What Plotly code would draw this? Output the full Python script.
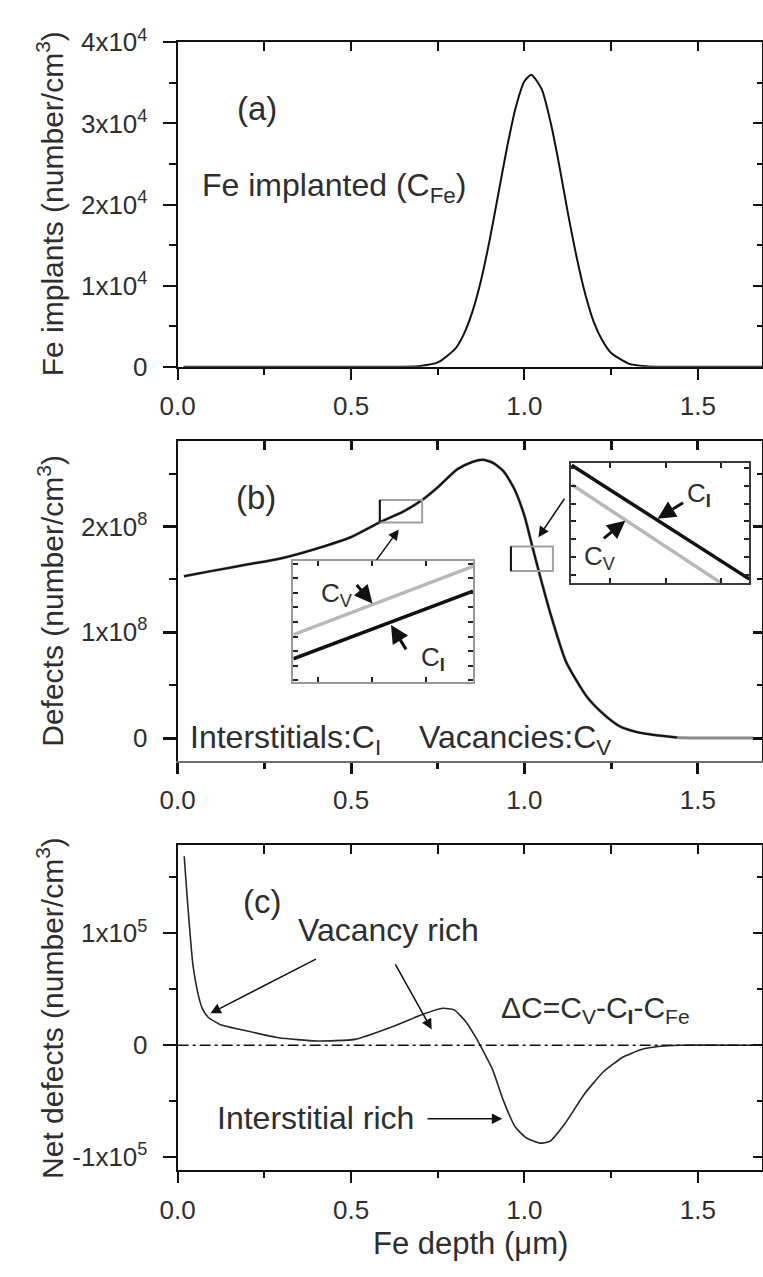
import plotly.graph_objects as go

W, H = 763, 1277
FONT = "Liberation Sans, Arial, Helvetica, sans-serif"
INK = "#111111"
TXT = "#2e2e2e"


def sx(p):
    return p / W


def sy(p):
    return 1 - p / H


# ---------------- data ----------------
# (a) implanted Fe profile, concentration in units of 1e4 /cm^3
depth_a = [0.017, 0.10, 0.20, 0.30, 0.40, 0.50, 0.60, 0.65, 0.70, 0.75, 0.80, 0.825,
           0.85, 0.875, 0.90, 0.925, 0.95, 0.975, 1.00, 1.02, 1.05, 1.075, 1.10, 1.125,
           1.15, 1.175, 1.20, 1.225, 1.25, 1.30, 1.35, 1.40, 1.50, 1.60, 1.685]
fe_1e4 = [0.0, 0.0, 0.0, 0.0, 0.0, 0.0, 0.0, 0.001, 0.01, 0.053, 0.22, 0.40,
          0.68, 1.07, 1.57, 2.14, 2.71, 3.20, 3.52, 3.60, 3.42, 3.02, 2.49, 1.90,
          1.36, 0.90, 0.55, 0.32, 0.17, 0.039, 0.007, 0.0, 0.0, 0.0, 0.0]

# (b) interstitials C_I and vacancies C_V, in units of 1e8 /cm^3
depth_ci = [0.018, 0.10, 0.20, 0.30, 0.40, 0.50, 0.583, 0.65, 0.705, 0.75, 0.806, 0.85,
            0.88, 0.91, 0.94, 0.97, 1.00, 1.022, 1.05, 1.08, 1.12, 1.18, 1.23, 1.275,
            1.32, 1.37, 1.44]
ci_1e8 = [1.53, 1.58, 1.64, 1.70, 1.79, 1.90, 2.04, 2.14, 2.25, 2.37, 2.54, 2.61,
          2.63, 2.60, 2.52, 2.36, 2.10, 1.82, 1.47, 1.12, 0.72, 0.39, 0.22, 0.11,
          0.06, 0.03, 0.005]
depth_cv = depth_ci + [1.50, 1.58, 1.66]
cv_1e8 = ci_1e8 + [0.0, 0.0, 0.0]

# zoom windows marked on (b) and shown magnified in the two insets
box1_x, box1_y = [0.583, 0.705], [2.037, 2.249]
box2_x, box2_y = [0.961, 1.082], [1.58, 1.81]

# magnified segments inside the windows
in1_x = [0.583, 0.705]
in1_cv = [2.120, 2.239]
in1_ci = [2.078, 2.196]
in2_x_ci = [0.9617, 1.082]
in2_ci = [1.806, 1.5875]
in2_x_cv = [0.9617, 1.0628]
in2_cv = [1.769, 1.58]

# (c) net defects dC = C_V - C_I - C_Fe, units of 1e5 /cm^3
depth_c = [0.019, 0.028, 0.044, 0.061, 0.071, 0.088, 0.126, 0.181, 0.291, 0.401,
           0.511, 0.621, 0.709, 0.764, 0.797, 0.830, 0.863, 0.874, 0.907, 0.940,
           0.973, 1.006, 1.045, 1.073, 1.117, 1.172, 1.227, 1.282, 1.337, 1.392,
           1.447, 1.685]
net_1e5 = [1.69, 1.30, 0.72, 0.43, 0.33, 0.25, 0.18, 0.14, 0.067, 0.038,
           0.052, 0.168, 0.278, 0.33, 0.316, 0.214, 0.052, -0.01, -0.21, -0.50,
           -0.73, -0.83, -0.876, -0.86, -0.70, -0.44, -0.24, -0.11, -0.038, -0.009,
           0.0, 0.0]

X_RANGE = [0, 1.685]
ya_ticks = [0, 1, 2, 3, 4]
ya_text = ["0", "1x10<sup>4</sup>", "2x10<sup>4</sup>", "3x10<sup>4</sup>", "4x10<sup>4</sup>"]
yb_ticks = [0, 1, 2]
yb_text = ["0", "1x10<sup>8</sup>", "2x10<sup>8</sup>"]
yc_ticks = [-1, 0, 1]
yc_text = ["-1x10<sup>5</sup>", "0", "1x10<sup>5</sup>"]

# ---------------- figure ----------------
fig = go.Figure()

fig.add_trace(go.Scatter(x=depth_a, y=fe_1e4, xaxis="x", yaxis="y", mode="lines",
                         line=dict(color=INK, width=2, shape="spline", smoothing=0.6),
                         hoverinfo="skip"))
fig.add_trace(go.Scatter(x=depth_cv, y=cv_1e8, xaxis="x2", yaxis="y2", mode="lines",
                         line=dict(color="#8a8a8a", width=3, shape="spline", smoothing=0.6),
                         hoverinfo="skip"))
fig.add_trace(go.Scatter(x=depth_ci, y=ci_1e8, xaxis="x2", yaxis="y2", mode="lines",
                         line=dict(color=INK, width=2, shape="spline", smoothing=0.6),
                         hoverinfo="skip"))
fig.add_trace(go.Scatter(x=depth_c, y=net_1e5, xaxis="x3", yaxis="y3", mode="lines",
                         line=dict(color="#262626", width=1.6, shape="spline", smoothing=0.5),
                         hoverinfo="skip"))
# inset 1
fig.add_trace(go.Scatter(x=in1_x, y=in1_cv, xaxis="x7", yaxis="y7", mode="lines",
                         line=dict(color="#b8b8b8", width=3.5), hoverinfo="skip"))
fig.add_trace(go.Scatter(x=in1_x, y=in1_ci, xaxis="x7", yaxis="y7", mode="lines",
                         line=dict(color=INK, width=3.5), hoverinfo="skip"))
# inset 2
fig.add_trace(go.Scatter(x=in2_x_cv, y=in2_cv, xaxis="x8", yaxis="y8", mode="lines",
                         line=dict(color="#b8b8b8", width=3.5), hoverinfo="skip"))
fig.add_trace(go.Scatter(x=in2_x_ci, y=in2_ci, xaxis="x8", yaxis="y8", mode="lines",
                         line=dict(color=INK, width=3.5), hoverinfo="skip"))

XD = [sx(163.5), sx(762)]
A_Y = [sy(358), sy(25)]
B_Y = [sy(763), sy(434)]
C_Y = [sy(1183), sy(849)]

tickfont = dict(family=FONT, size=26, color=TXT)


def bottom_x(anchor, tw=2, lc=INK):
    return dict(domain=XD, range=X_RANGE, anchor=anchor, showgrid=False, zeroline=False,
                showline=True, linecolor=lc, linewidth=2, ticks="outside", ticklen=11,
                tickwidth=tw, tickcolor=INK, tickmode="linear", tick0=0, dtick=0.5,
                tickformat=".1f", tickfont=tickfont, ticklabelstandoff=4,
                minor=dict(ticks="outside", ticklen=6, tickwidth=tw, tickcolor=INK,
                           tickmode="linear", tick0=0, dtick=0.25))


def top_x(over, anchor, tw=2):
    return dict(overlaying=over, anchor=anchor, side="top", range=X_RANGE,
                showgrid=False, zeroline=False, showline=True, linecolor=INK,
                linewidth=2, ticks="inside", ticklen=9, tickwidth=tw, tickcolor=INK,
                tickmode="linear", tick0=0, dtick=0.25, showticklabels=False)


def left_y(dom, rng, tv, tt, anchor, minor_d, tw=2):
    return dict(domain=dom, range=rng, anchor=anchor, showgrid=False, zeroline=False,
                showline=True, linecolor=INK, linewidth=2, ticks="outside", ticklen=13,
                tickwidth=tw, tickcolor=INK, tickmode="array", tickvals=tv, ticktext=tt,
                tickfont=tickfont, ticklabelstandoff=10,
                minor=dict(ticks="outside", ticklen=7, tickwidth=2, tickcolor=INK,
                           tickmode="linear", tick0=0, dtick=minor_d))


def right_y(over, anchor, rng, tv, minor_d, tw=2):
    return dict(overlaying=over, anchor=anchor, side="right", range=rng,
                showgrid=False, zeroline=False, showline=True, linecolor=INK,
                linewidth=2, ticks="inside", ticklen=9, tickwidth=tw, tickcolor=INK,
                tickmode="array", tickvals=tv, showticklabels=False,
                minor=dict(ticks="inside", ticklen=5, tickwidth=2, tickcolor=INK,
                           tickmode="linear", tick0=0, dtick=minor_d))


def inset_axes(dom, rng, tick0, dtick, anchor, lc):
    return dict(domain=dom, range=rng, anchor=anchor, showgrid=False, zeroline=False,
                showline=True, mirror="ticks", linecolor=lc, linewidth=2,
                ticks="inside", ticklen=5, tickwidth=2, tickcolor="#222222",
                tickmode="linear", tick0=tick0, dtick=dtick, showticklabels=False)


YA = [0, 4]
YB = [-0.22, 2.81]
YC = [-1.12, 1.79]

fig.update_layout(
    width=W, height=H, margin=dict(l=0, r=0, t=0, b=0),
    paper_bgcolor="white", plot_bgcolor="rgba(0,0,0,0)", showlegend=False,
    font=dict(family=FONT, color=TXT),
    xaxis=bottom_x("y"),
    yaxis=left_y(A_Y, YA, ya_ticks, ya_text, "x", 0.5),
    xaxis2=bottom_x("y2", tw=3, lc="#6e6e6e"),
    yaxis2=left_y(B_Y, YB, yb_ticks, yb_text, "x2", 0.5, tw=3),
    xaxis3=bottom_x("y3"),
    yaxis3=left_y(C_Y, YC, yc_ticks, yc_text, "x3", 0.5),
    xaxis4=top_x("x", "y"),
    yaxis4=right_y("y", "x", YA, ya_ticks, 0.5),
    xaxis5=top_x("x2", "y2", tw=3),
    yaxis5=right_y("y2", "x2", YB, yb_ticks, 0.5, tw=3),
    xaxis6=top_x("x3", "y3"),
    yaxis6=right_y("y3", "x3", YC, yc_ticks, 0.5),
    xaxis7=inset_axes([sx(282), sx(466)], box1_x, 0.6, 0.0367, "y7", "#9a9a9a"),
    yaxis7=inset_axes([sy(682), sy(557)], box1_y, 2.066, 0.0254, "x7", "#9a9a9a"),
    xaxis8=inset_axes([sx(566), sx(749)], box2_x, 0.9879, 0.0375, "y8", "#3a3a3a"),
    yaxis8=inset_axes([sy(580), sy(457)], box2_y, 1.595, 0.0344, "x8", "#3a3a3a"),
)

# keep overlay axes alive with empty traces
for xa, ya in [("x4", "y4"), ("x5", "y5"), ("x6", "y6")]:
    fig.add_trace(go.Scatter(x=[], y=[], xaxis=xa, yaxis=ya, mode="lines",
                             hoverinfo="skip"))

shapes = []
# zoom windows on (b): grey frame with a dark left edge
for bx, by in [(box1_x, box1_y), (box2_x, box2_y)]:
    shapes.append(dict(type="rect", xref="x2", yref="y2", x0=bx[0], x1=bx[1],
                       y0=by[0], y1=by[1], line=dict(color="#a0a0a0", width=2)))
    shapes.append(dict(type="line", xref="x2", yref="y2", x0=bx[0], x1=bx[0],
                       y0=by[0], y1=by[1], line=dict(color=INK, width=2)))
# zero reference in (c)
shapes.append(dict(type="line", xref="x3 domain", yref="y3", x0=0, x1=1, y0=0, y1=0,
                   line=dict(color=INK, width=1.6, dash="11px,4px,3px,4px")))
fig.update_layout(shapes=shapes)

ann = []


def text(xp, yp, s, size=32, xanchor="center", yanchor="middle", angle=0):
    ann.append(dict(x=sx(xp), y=sy(yp), xref="paper", yref="paper", text=s,
                    showarrow=False, xanchor=xanchor, yanchor=yanchor, textangle=angle,
                    font=dict(family=FONT, size=size, color=TXT)))


def arrow(head, tail, width=1.5, size=1.4, head_style=2):
    ann.append(dict(x=sx(head[0]), y=sy(head[1]), xref="paper", yref="paper",
                    ax=tail[0] - head[0], ay=tail[1] - head[1], text="",
                    showarrow=True, arrowhead=head_style, arrowsize=size,
                    arrowwidth=width, arrowcolor=INK))


# axis titles
text(33, 191, "Fe implants (number/cm<sup>3</sup>)", size=30, angle=-90)
text(33, 598, "Defects (number/cm<sup>3</sup>)", size=30, angle=-90)
text(33, 1016, "Net defects (number/cm<sup>3</sup>)", size=30, angle=-90)
text(463, 1258, "Fe depth (\u03bcm)", size=31)

# panel (a)
text(245, 93, "(a)", size=33)
text(186, 174, "Fe implanted (C<sub>Fe</sub>)", xanchor="left")

# panel (b)
text(244, 492, "(b)", size=33)
text(174, 741, "Interstitials:C<sub>I</sub>", xanchor="left")
text(409, 741, "Vacancies:C<sub>V</sub>", xanchor="left")
arrow((390, 525), (366.7, 557))
arrow((533, 533), (560, 493))
text(308, 592, "C<sub>V</sub>", size=26, xanchor="left")
text(411, 657, "C<sub><b>I</b></sub>", size=26, xanchor="left")
text(683, 489, "C<sub><b>I</b></sub>", size=26, xanchor="left")
text(578, 554, "C<sub>V</sub>", size=26, xanchor="left")
arrow((363, 601), (346, 581), width=3, size=1.2)
arrow((382, 623), (398, 649), width=3, size=1.2)
arrow((655, 514), (682, 497), width=3, size=1.2)
arrow((622, 516), (599, 535), width=3, size=1.2)

# panel (c)
text(250, 907, "(c)", size=33)
text(379, 936, "Vacancy rich")
text(202, 1129, "Interstitial rich", xanchor="left")
text(493, 1018, "\u0394C=C<sub>V</sub>-C<sub><b>I</b></sub>-C<sub>Fe</sub>", size=30,
     xanchor="left")
arrow((197, 1021.7), (304, 966.7))
arrow((423.7, 1038.3), (386.5, 971.7))
arrow((496, 1130), (419.7, 1130))

fig.update_layout(annotations=ann)

fig.write_html("out.html")
